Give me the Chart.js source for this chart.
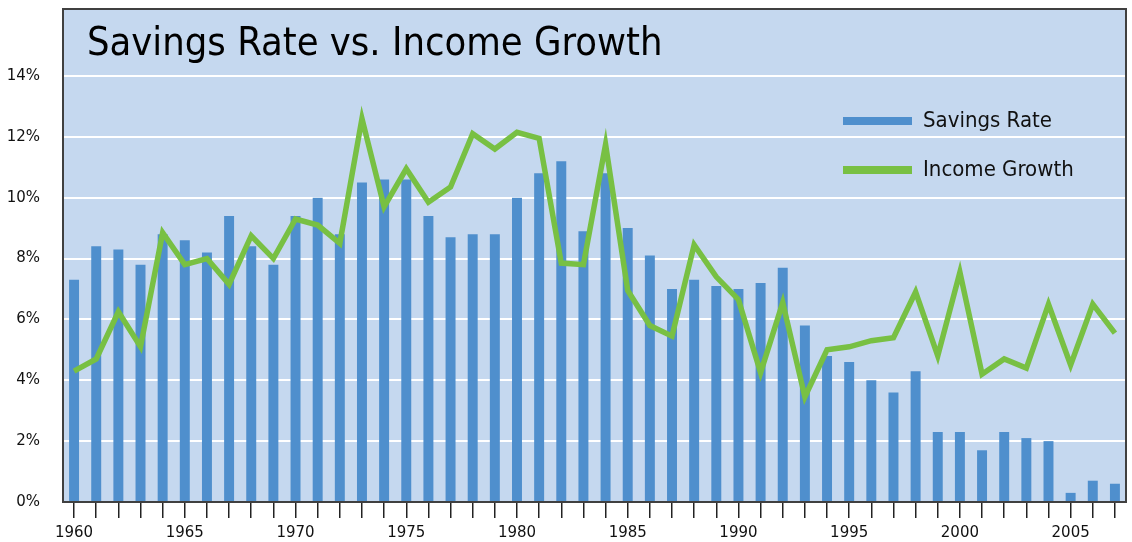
<!DOCTYPE html>
<html>
<head>
<meta charset="utf-8">
<script src="https://cdn.jsdelivr.net/npm/chart.js@4.4.1/dist/chart.umd.min.js"></script>
<style>
  body { margin: 0; background: #fff; }
  #wrap { width: 1132px; height: 542px; }
</style>
</head>
<body>
<div id="wrap"><canvas id="chart" width="1132" height="542"></canvas></div>
<script>
const years = [1960, 1961, 1962, 1963, 1964, 1965, 1966, 1967, 1968, 1969,
               1970, 1971, 1972, 1973, 1974, 1975, 1976, 1977, 1978, 1979,
               1980, 1981, 1982, 1983, 1984, 1985, 1986, 1987, 1988, 1989,
               1990, 1991, 1992, 1993, 1994, 1995, 1996, 1997, 1998, 1999,
               2000, 2001, 2002, 2003, 2004, 2005, 2006, 2007];

const savingsRate = [7.3, 8.4, 8.3, 7.8, 8.8, 8.6, 8.2, 9.4, 8.4, 7.8,
                     9.4, 10.0, 8.8, 10.5, 10.6, 10.6, 9.4, 8.7, 8.8, 8.8,
                     10.0, 10.8, 11.2, 8.9, 10.8, 9.0, 8.1, 7.0, 7.3, 7.1,
                     7.0, 7.2, 7.7, 5.8, 4.8, 4.6, 4.0, 3.6, 4.3, 2.3,
                     2.3, 1.7, 2.3, 2.1, 2.0, 0.3, 0.7, 0.6];

const incomeGrowth = [4.3, 4.7, 6.25, 5.1, 8.85, 7.8, 8.0, 7.15, 8.75, 8.0,
                      9.3, 9.1, 8.5, 12.6, 9.7, 10.95, 9.85, 10.35, 12.1, 11.6,
                      12.15, 11.95, 7.85, 7.8, 11.75, 6.95, 5.8, 5.45, 8.45, 7.4,
                      6.65, 4.25, 6.55, 3.45, 5.0, 5.1, 5.3, 5.4, 6.9, 4.8,
                      7.55, 4.2, 4.7, 4.4, 6.5, 4.5, 6.5, 5.55];

const yTicks = [0, 2, 4, 6, 8, 10, 12, 14];

const BLUE = "#4F8FCD";
const GREEN = "#78C043";
const PLOT_BG = "#C5D8EF";

// fondo del área de trazado
const plotBackground = {
    id: 'plotBackground',
    beforeDraw(chart) {
        const { ctx, chartArea: a } = chart;
        ctx.save();
        ctx.fillStyle = PLOT_BG;
        ctx.fillRect(a.left, a.top, a.right - a.left, a.bottom - a.top);
        ctx.restore();
    }
};

// título y leyenda dentro del área, más el marco
const overlay = {
    id: 'overlay',
    afterDraw(chart) {
        const { ctx, chartArea: a } = chart;
        ctx.save();

        ctx.fillStyle = "#000";
        ctx.textBaseline = 'alphabetic';
        ctx.font = '39.5px "DejaVu Sans Condensed", "DejaVu Sans", sans-serif';
        ctx.fillText("Savings Rate vs. Income Growth", a.left + 24, 55);

        const items = chart.data.datasets.slice().sort((p, q) => q.order - p.order);
        items.forEach((ds, i) => {
            const y = 121 + i * 49;
            ctx.fillStyle = ds.legendColor;
            ctx.fillRect(843, y - 4, 69, 8);
            ctx.fillStyle = "#111";
            ctx.font = '22px "DejaVu Sans Condensed", "DejaVu Sans", sans-serif';
            ctx.textBaseline = 'middle';
            ctx.fillText(ds.label, 923, y);
        });

        ctx.strokeStyle = "#404040";
        ctx.lineWidth = 2;
        ctx.strokeRect(a.left, a.top, a.right - a.left, a.bottom - a.top);
        ctx.restore();
    }
};

new Chart(document.getElementById("chart"), {
    data: {
        labels: years,
        datasets: [
            {
                type: 'line',
                label: 'Income Growth',
                data: incomeGrowth,
                borderColor: GREEN,
                legendColor: GREEN,
                borderWidth: 5.5,
                borderJoinStyle: 'miter',
                pointRadius: 0,
                tension: 0,
                order: 1
            },
            {
                type: 'bar',
                label: 'Savings Rate',
                data: savingsRate,
                backgroundColor: BLUE,
                legendColor: BLUE,
                borderWidth: 0,
                barPercentage: 0.45,
                categoryPercentage: 1,
                order: 2
            }
        ]
    },
    options: {
        responsive: false,
        animation: false,
        layout: { padding: { top: 9, right: 6, left: 0, bottom: 0 } },
        plugins: {
            legend: { display: false },
            tooltip: { enabled: false }
        },
        scales: {
            x: {
                type: 'category',
                offset: true,
                afterFit: s => { s.height = 40; s.paddingLeft = 0; s.paddingRight = 0; },
                border: { display: false },
                grid: {
                    offset: false,
                    drawOnChartArea: false,
                    drawTicks: true,
                    tickLength: 16,
                    color: "#222",
                    lineWidth: 1.5
                },
                ticks: {
                    autoSkip: false,
                    maxRotation: 0,
                    padding: 6,
                    color: "#111",
                    font: { family: '"DejaVu Sans", sans-serif', size: 15 },
                    callback: (v, i) => years[i] % 5 === 0 ? String(years[i]) : ''
                }
            },
            y: {
                min: 0,
                max: 16.2,
                afterFit: s => { s.width = 63; s.paddingTop = 0; s.paddingBottom = 0; },
                afterBuildTicks: s => { s.ticks = yTicks.map(v => ({ value: v })); },
                border: { display: false },
                grid: {
                    color: "#FFFFFF",
                    lineWidth: 2,
                    drawTicks: false
                },
                ticks: {
                    padding: 23,
                    color: "#111",
                    font: { family: '"DejaVu Sans", sans-serif', size: 15 },
                    callback: v => v + '%'
                }
            }
        }
    },
    plugins: [plotBackground, overlay]
});
</script>
</body>
</html>
